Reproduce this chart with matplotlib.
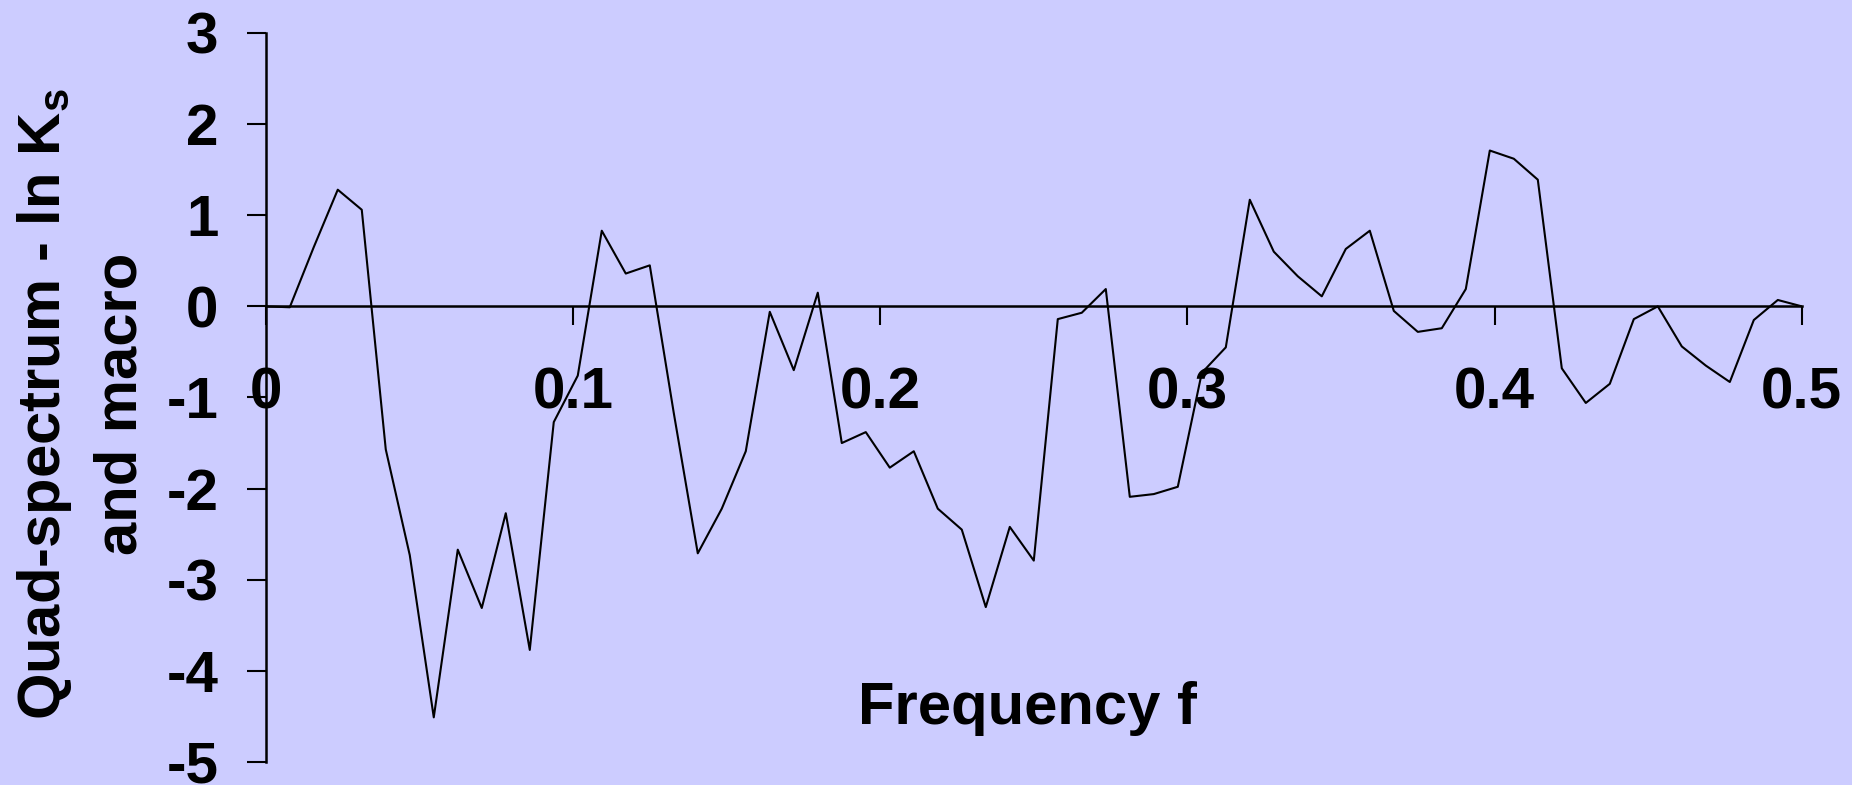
import numpy as np
import matplotlib.pyplot as plt

plt.rcParams["font.family"] = ["Liberation Sans", "DejaVu Sans"]
plt.rcParams["font.weight"] = "bold"

BG = "#CCCCFF"

# frequency grid: k / 128, k = 0..64
N_FREQ = 128
quad = [
    0.00, -0.01, 0.65, 1.28, 1.06, -1.57, -2.73, -4.51, -2.67, -3.31,
    -2.27, -3.77, -1.27, -0.76, 0.83, 0.36, 0.45, -1.17, -2.71, -2.22,
    -1.59, -0.06, -0.70, 0.15, -1.50, -1.38, -1.77, -1.59, -2.22, -2.45,
    -3.30, -2.42, -2.79, -0.14, -0.07, 0.19, -2.09, -2.06, -1.98, -0.73,
    -0.45, 1.17, 0.60, 0.33, 0.11, 0.63, 0.83, -0.05, -0.28, -0.24,
    0.19, 1.71, 1.62, 1.39, -0.68, -1.06, -0.85, -0.14, 0.00, -0.44,
    -0.65, -0.83, -0.15, 0.07, 0.00,
]
freq = np.arange(len(quad)) / N_FREQ

x_ticks = [0, 0.1, 0.2, 0.3, 0.4, 0.5]
x_tick_labels = ["0", "0.1", "0.2", "0.3", "0.4", "0.5"]
y_ticks = [3, 2, 1, 0, -1, -2, -3, -4, -5]

fig = plt.figure(figsize=(18.52, 7.85), dpi=100, facecolor=BG)
ax = fig.add_axes([0.1435, 0.0293, 0.8294, 0.9287])
ax.set_facecolor(BG)

ax.plot(freq, quad, color="black", linewidth=1.5)

ax.set_xlim(0, 0.5)
ax.set_ylim(-5, 3)

ax.spines["top"].set_visible(False)
ax.spines["right"].set_visible(False)
ax.spines["bottom"].set_position(("data", 0))
ax.spines["bottom"].set_linewidth(1.8)
ax.spines["left"].set_linewidth(1.8)

ax.set_xticks(x_ticks)
ax.set_xticklabels(x_tick_labels)
ax.set_yticks(y_ticks)
ax.set_yticklabels([str(v) for v in y_ticks])

ax.tick_params(axis="x", direction="out", length=14, width=1.5,
               labelsize=42, pad=29)
ax.tick_params(axis="y", direction="out", length=14, width=1.5,
               labelsize=42, pad=20)
for lbl in ax.get_xticklabels() + ax.get_yticklabels():
    lbl.set_fontweight("bold")

fig.text(1027 / 1852, 1 - 708 / 785, "Frequency f",
         ha="center", va="center", fontsize=43, fontweight="bold")

fig.text(45 / 1852, 1 - 404 / 785, r"Quad-spectrum - ln K$_\mathregular{s}$",
         ha="center", va="center", rotation=90, fontsize=43, fontweight="bold")
fig.text(121 / 1852, 1 - 404 / 785, "and macro",
         ha="center", va="center", rotation=90, fontsize=43, fontweight="bold")

fig.savefig("out.png", dpi=100, facecolor=BG)
